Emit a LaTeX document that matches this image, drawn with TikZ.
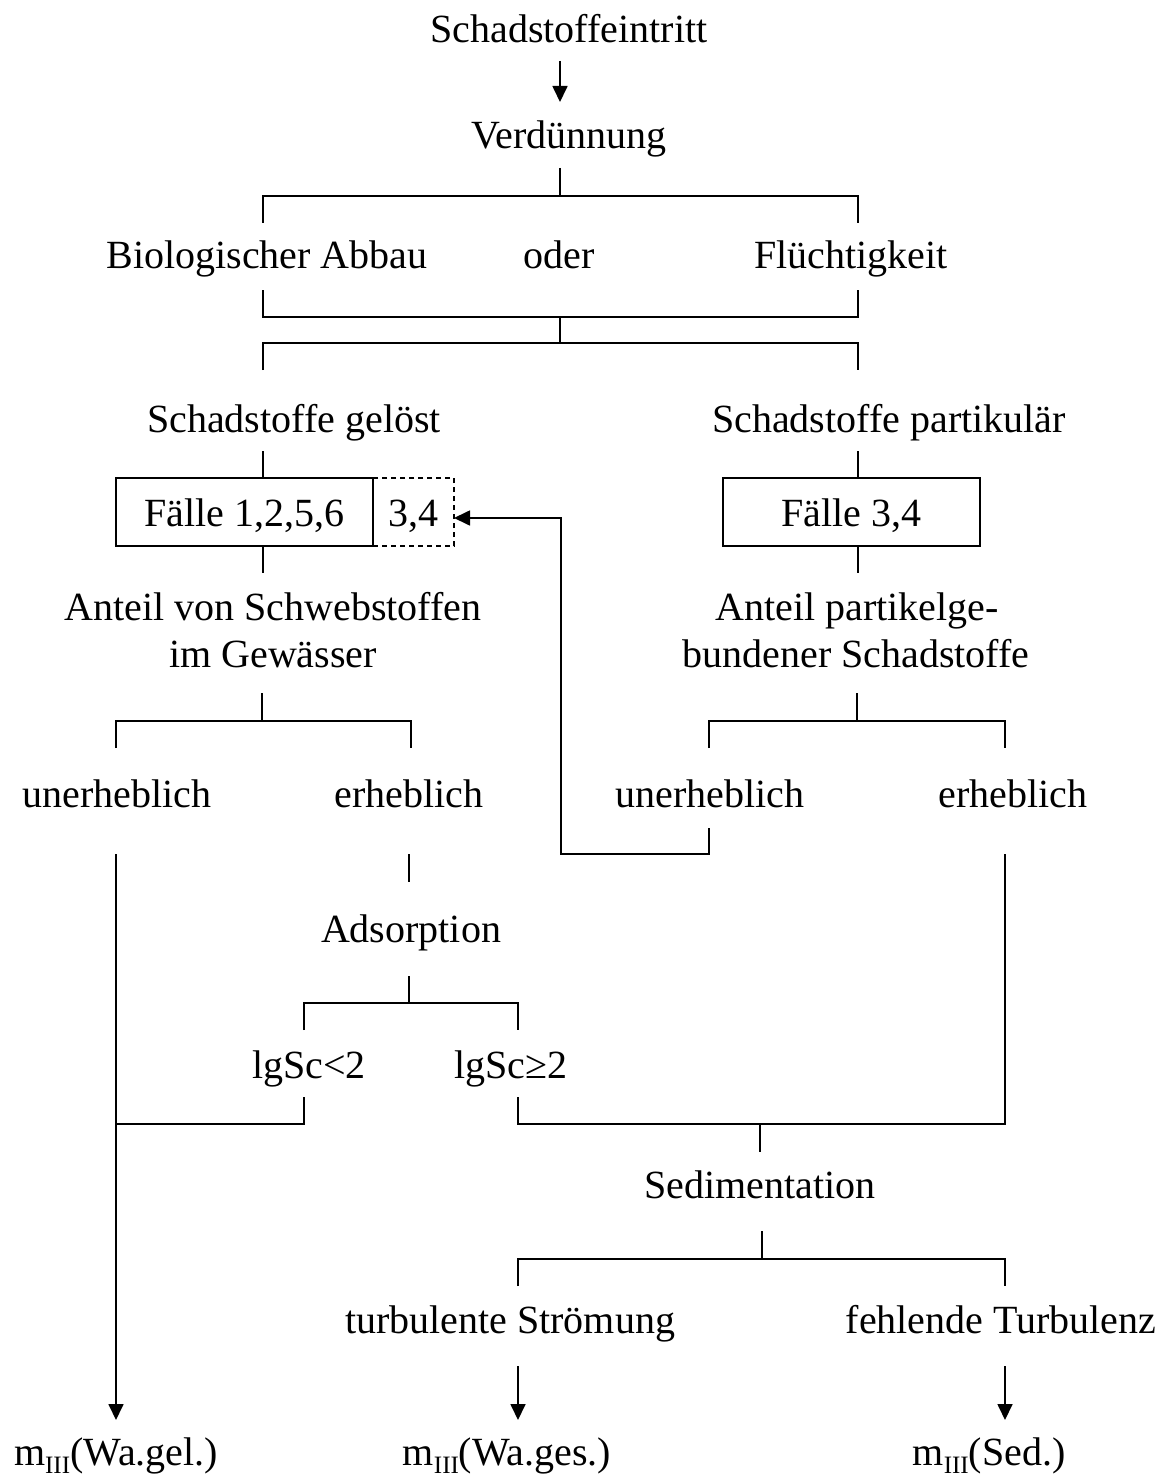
\documentclass[tikz,border=0pt]{standalone}
\usepackage{fontspec}
\setmainfont{Liberation Serif}
\usetikzlibrary{arrows.meta}
\begin{document}
\begin{tikzpicture}[x=1pt,y=-1pt,
  lbl/.style={anchor=base, inner sep=0pt, font=\fontsize{40}{47}\selectfont},
  conn/.style={draw, line width=1.7pt},
  arr/.style={conn, -{Triangle[length=16pt,width=15pt]}},
  casebox/.style={draw, line width=1.7pt, inner sep=0pt, minimum height=68pt,
    text height=28pt, text depth=0pt, font=\fontsize{40}{47}\selectfont}]
\useasboundingbox (0,0) rectangle (1171,1479);
\newcommand{\mIII}{m\raisebox{-8pt}{\fontsize{25}{25}\selectfont III}}

% texts
\node[lbl] (eintritt) at (569,43) {Schadstoffeintritt};
\node[lbl] (verd) at (569,149) {Verdünnung};
\node[lbl] (bio) at (267,269) {Biologischer Abbau};
\node[lbl] (oder) at (559,269) {oder};
\node[lbl] (fluecht) at (851,269) {Flüchtigkeit};
\node[lbl] (geloest) at (294,432) {Schadstoffe gelöst};
\node[lbl] (partik) at (889,432) {Schadstoffe partikulär};
\node[casebox, minimum width=257pt] (box1) at (244.5,512) {Fälle 1,2,5,6};
\node[casebox, dashed, dash pattern=on 5pt off 4pt, minimum width=81pt] (box2) at (413.5,512) {3,4};
\node[casebox, minimum width=257pt] (box3) at (851.5,512) {Fälle 3,4};
\node[lbl] (schweb1) at (273,620) {Anteil von Schwebstoffen};
\node[lbl] (schweb2) at (273,667) {im Gewässer};
\node[lbl] (pgeb1) at (857,620) {Anteil partikelge-};
\node[lbl] (pgeb2) at (856,667) {bundener Schadstoffe};
\node[lbl] (unerhL) at (117,807) {unerheblich};
\node[lbl] (erhL) at (409,807) {erheblich};
\node[lbl] (unerhR) at (710,807) {unerheblich};
\node[lbl] (erhR) at (1013,807) {erheblich};
\node[lbl] (adsorp) at (411,942) {Adsorption};
\node[lbl] (lgklein) at (309,1078) {lgSc<2};
\node[lbl] (lggross) at (511,1078) {lgSc≥2};
\node[lbl] (sedi) at (760,1198) {Sedimentation};
\node[lbl] (turb) at (510,1333) {turbulente Strömung};
\node[lbl] (fehl) at (1001,1333) {fehlende Turbulenz};
\node[lbl] (wagel) at (116,1465) {\mIII(Wa.gel.)};
\node[lbl] (wages) at (507,1465) {\mIII(Wa.ges.)};
\node[lbl] (sed) at (989,1465) {\mIII(Sed.)};

% coordinates
\coordinate (a1) at (560,61);   \coordinate (a2) at (560,102);
\coordinate (v1) at (560,168);  \coordinate (v2) at (560,196);
\coordinate (b1) at (263,223);  \coordinate (b2) at (263,196);
\coordinate (b3) at (858,196);  \coordinate (b4) at (858,223);
\coordinate (c1) at (263,290);  \coordinate (c2) at (263,317);
\coordinate (c3) at (858,317);  \coordinate (c4) at (858,290);
\coordinate (c5) at (560,317);  \coordinate (c6) at (560,343);
\coordinate (d1) at (263,370);  \coordinate (d2) at (263,343);
\coordinate (d3) at (858,343);  \coordinate (d4) at (858,370);
\coordinate (e1) at (263,451);  \coordinate (e2) at (858,451);
\coordinate (f1) at (263,573);  \coordinate (f2) at (858,573);
\coordinate (g1) at (262,693);  \coordinate (g2) at (262,721);
\coordinate (g3) at (116,748);  \coordinate (g4) at (116,721);
\coordinate (g5) at (411,721);  \coordinate (g6) at (411,748);
\coordinate (h1) at (857,693);  \coordinate (h2) at (857,721);
\coordinate (h3) at (709,748);  \coordinate (h4) at (709,721);
\coordinate (h5) at (1005,721); \coordinate (h6) at (1005,748);
\coordinate (r1) at (709,828);  \coordinate (r2) at (709,854);
\coordinate (r3) at (561,854);  \coordinate (r4) at (561,518);
\coordinate (r5) at (454,518);
\coordinate (k1) at (409,854);  \coordinate (k2) at (409,882);
\coordinate (m1) at (409,976);  \coordinate (m2) at (409,1003);
\coordinate (m3) at (304,1030); \coordinate (m4) at (304,1003);
\coordinate (m5) at (518,1003); \coordinate (m6) at (518,1030);
\coordinate (n1) at (116,854);  \coordinate (n2) at (116,1420);
\coordinate (n3) at (304,1097); \coordinate (n4) at (304,1124);
\coordinate (n5) at (116,1124);
\coordinate (p1) at (518,1097); \coordinate (p2) at (518,1124);
\coordinate (p3) at (1005,1124);\coordinate (p4) at (1005,854);
\coordinate (q1) at (760,1124); \coordinate (q2) at (760,1152);
\coordinate (s1) at (762,1231); \coordinate (s2) at (762,1259);
\coordinate (s3) at (518,1286); \coordinate (s4) at (518,1259);
\coordinate (s5) at (1005,1259);\coordinate (s6) at (1005,1286);
\coordinate (t1) at (518,1366); \coordinate (t2) at (518,1420);
\coordinate (t3) at (1005,1366);\coordinate (t4) at (1005,1420);

% connectors
\draw[arr] (a1) -- (a2);
\draw[conn] (v1) -- (v2);
\draw[conn] (b1) -- (b2) -- (b3) -- (b4);
\draw[conn] (c1) -- (c2) -- (c3) -- (c4);
\draw[conn] (c5) -- (c6);
\draw[conn] (d1) -- (d2) -- (d3) -- (d4);
\draw[conn] (e1) -- (e1 |- box1.north);
\draw[conn] (e2) -- (e2 |- box3.north);
\draw[conn] (e1 |- box1.south) -- (f1);
\draw[conn] (e2 |- box3.south) -- (f2);
\draw[conn] (g1) -- (g2);
\draw[conn] (g3) -- (g4) -- (g5) -- (g6);
\draw[conn] (h1) -- (h2);
\draw[conn] (h3) -- (h4) -- (h5) -- (h6);
\draw[arr] (r1) -- (r2) -- (r3) -- (r4) -- (r5);
\draw[conn] (k1) -- (k2);
\draw[conn] (m1) -- (m2);
\draw[conn] (m3) -- (m4) -- (m5) -- (m6);
\draw[arr] (n1) -- (n2);
\draw[conn] (n3) -- (n4) -- (n5);
\draw[conn] (p1) -- (p2) -- (p3) -- (p4);
\draw[conn] (q1) -- (q2);
\draw[conn] (s1) -- (s2);
\draw[conn] (s3) -- (s4) -- (s5) -- (s6);
\draw[arr] (t1) -- (t2);
\draw[arr] (t3) -- (t4);
\end{tikzpicture}
\end{document}
